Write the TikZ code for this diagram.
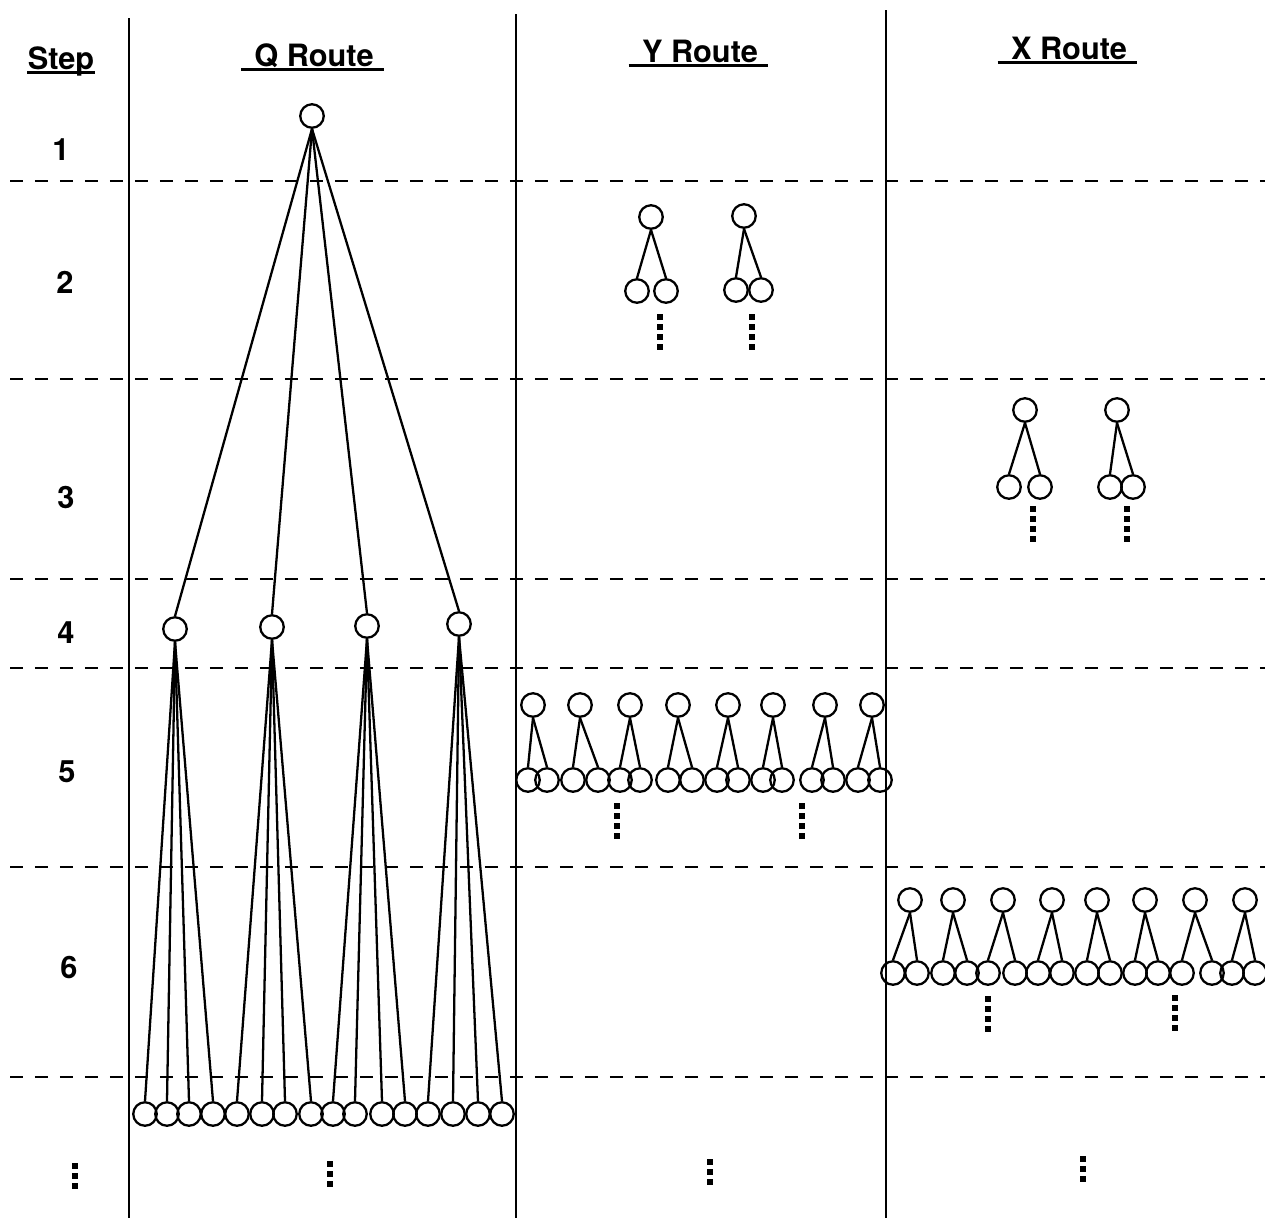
\documentclass[tikz,border=0pt]{standalone}
\usepackage{fontspec}
\setmainfont{TeX Gyre Heros}
\usetikzlibrary{positioning}

\begin{document}
\begin{tikzpicture}[
  x=0.02cm, y=-0.02cm,
  site/.style={circle, draw, line width=1.3pt, minimum size=0.47cm, inner sep=0pt},
  link/.style={line width=1.3pt},
  colline/.style={line width=1.6pt},
  stepline/.style={line width=1.4pt, dash pattern=on 0.26cm off 0.24cm},
  heading/.style={font=\fontsize{17.5}{20}\selectfont\bfseries, inner sep=0pt, anchor=base},
  num/.style={font=\fontsize{17.5}{20}\selectfont\bfseries},
  uline/.style={line width=1.6pt},
  sqdots/.style={line width=0.11cm, dash pattern=on 0.11cm off 0.09cm}
]
\useasboundingbox (0,0) rectangle (1265,1218);

% column rules and step separators
\draw[colline] (129,18) -- (129,1218);
\draw[colline] (516,14) -- (516,1218);
\draw[colline] (886,10) -- (886,1218);
\foreach \y in {181,379,579,668,867,1077}
  \draw[stepline] (10,\y) -- (1265,\y);

% headings
\node[heading] (step) at (61,69) {Step};
\node[heading] (qhead) at (314,66) {Q Route};
\node[heading] (yhead) at (700,62) {Y Route};
\node[heading] (xhead) at (1069,59) {X Route};
\draw[uline] ([yshift=-0.07cm]step.base west) -- ([yshift=-0.07cm]step.base east);
\foreach \h in {qhead,yhead,xhead}
  \draw[uline] ([xshift=-0.26cm,yshift=-0.07cm]\h.base west) -- ([xshift=0.2cm,yshift=-0.07cm]\h.base east);

% step numbers
\node[num] (s1) at (61,150) {1};
\node[num] (s2) at (65,282) {2};
\node[num] (s3) at (66,497) {3};
\node[num] (s4) at (66,633) {4};
\node[num] (s5) at (67,772) {5};
\node[num] (s6) at (69,967) {6};

% Q route: one root, four at step 4, sixteen below
\node[site] (q0) at (312,116) {};
\node[site] (q1) at (175,629) {};
\node[site] (q2) at (272,627) {};
\node[site] (q3) at (367,626) {};
\node[site] (q4) at (459,624) {};
\foreach \x [count=\i] in {145,167,189,213,237,262,285,311,333,355,382,405,428,453,478,502}
  \node[site] (qb\i) at (\x,1114) {};
\foreach \p in {1,...,4} {
  \draw[link] (q0.south) -- (q\p.north);
  \foreach \k in {1,...,4} {
    \pgfmathtruncatemacro\c{4*(\p-1)+\k}
    \draw[link] (q\p.south) -- (qb\c.north);
  }
}

% Y route, step 2
\node[site] (y2a) at (651,217) {};
\node[site] (y2a-l) at (637,291) {};
\node[site] (y2a-r) at (666,291) {};
\node[site] (y2b) at (744,216) {};
\node[site] (y2b-l) at (736,290) {};
\node[site] (y2b-r) at (761,290) {};
\foreach \t in {y2a,y2b} {
  \draw[link] (\t.south) -- (\t-l.north);
  \draw[link] (\t.south) -- (\t-r.north);
}

% X route, step 3
\node[site] (x3a) at (1025,410) {};
\node[site] (x3a-l) at (1009,487) {};
\node[site] (x3a-r) at (1040,487) {};
\node[site] (x3b) at (1117,410) {};
\node[site] (x3b-l) at (1110,487) {};
\node[site] (x3b-r) at (1133,487) {};
\foreach \t in {x3a,x3b} {
  \draw[link] (\t.south) -- (\t-l.north);
  \draw[link] (\t.south) -- (\t-r.north);
}

% Y route, step 5
\foreach \x [count=\i] in {533,580,630,678,728,773,825,872}
  \node[site] (ys\i) at (\x,705) {};
\foreach \x [count=\i] in {528,547,573,598,620,640,668,692,717,738,763,782,812,833,858,880}
  \node[site] (yl\i) at (\x,780) {};
\foreach \i in {1,...,8} {
  \pgfmathtruncatemacro\a{2*\i-1}
  \pgfmathtruncatemacro\b{2*\i}
  \draw[link] (ys\i.south) -- (yl\a.north);
  \draw[link] (ys\i.south) -- (yl\b.north);
}

% X route, step 6
\foreach \x [count=\i] in {910,953,1003,1052,1097,1145,1195,1245}
  \node[site] (xs\i) at (\x,900) {};
\foreach \x [count=\i] in {893,917,943,967,988,1015,1038,1062,1087,1110,1135,1158,1182,1212,1232,1255}
  \node[site] (xl\i) at (\x,973) {};
\foreach \i in {1,...,8} {
  \pgfmathtruncatemacro\a{2*\i-1}
  \pgfmathtruncatemacro\b{2*\i}
  \draw[link] (xs\i.south) -- (xl\a.north);
  \draw[link] (xs\i.south) -- (xl\b.north);
}

% continuation marks
\draw[sqdots] (660,314) -- (660,350);
\draw[sqdots] (752,314) -- (752,350);
\draw[sqdots] (1033,506) -- (1033,542);
\draw[sqdots] (1127,506) -- (1127,542);
\draw[sqdots] (617,803) -- (617,839);
\draw[sqdots] (802,803) -- (802,839);
\draw[sqdots] (988,996) -- (988,1032);
\draw[sqdots] (1175,995) -- (1175,1031);
\draw[sqdots] (75,1163) -- (75,1190);
\draw[sqdots] (330,1161) -- (330,1188);
\draw[sqdots] (710,1159) -- (710,1186);
\draw[sqdots] (1083,1156) -- (1083,1183);
\end{tikzpicture}
\end{document}
